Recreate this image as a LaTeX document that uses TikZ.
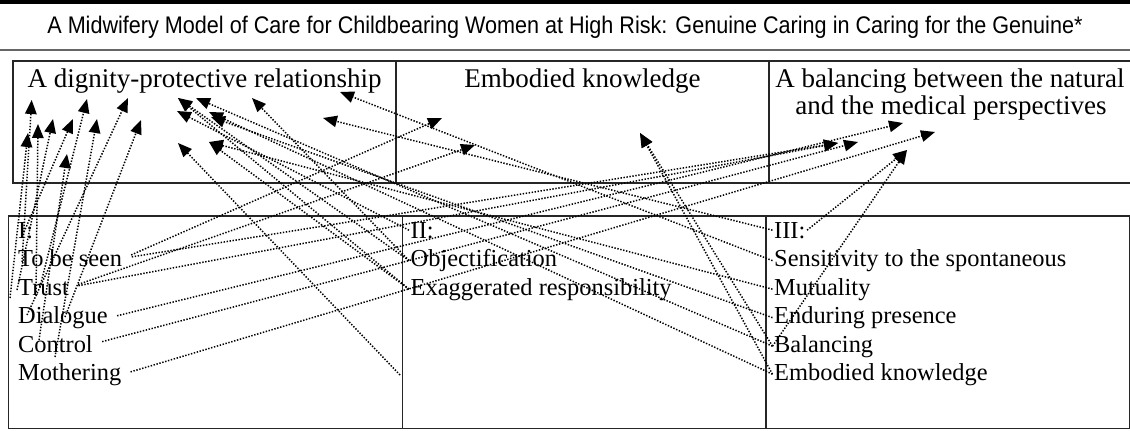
\documentclass[tikz,border=0pt]{standalone}
\usepackage{fontspec}
\usepackage{graphicx}
\setmainfont{Liberation Serif}
\newfontfamily\titlefont{Liberation Sans}
\usetikzlibrary{arrows.meta}
\begin{document}
\begin{tikzpicture}[x=1pt,y=-1pt,
  conn/.style={line width=1.5pt, dash pattern=on 1.4pt off 1.6pt, -{Triangle[length=14pt,width=11.5pt]}},
  gap/.style={shorten <=8pt},
  box/.style={line width=1.2pt, draw=black!85},
  toptxt/.style={font=\fontsize{27}{28}\selectfont, inner sep=0pt, anchor=base},
  item/.style={font=\fontsize{24.4}{25}\selectfont, inner sep=1.5pt, anchor=base west}]
\useasboundingbox (0,0) rectangle (1130,431);
\fill[black] (0,0) rectangle (1130,4);
\draw[line width=1.3pt, black!60] (0,50) -- (1130,50);
\node[font=\titlefont\fontsize{24}{25}\selectfont, anchor=base, inner sep=0pt] (title) at (565,33)
  {\scalebox{0.9}[1]{A Midwifery Model of Care for Childbearing Women at High Risk: Genuine Caring in Caring for the Genuine*}};
% boxes
\draw[box] (13,61) rectangle (1131,183);
\draw[box] (396,61) -- (396,183);
\draw[box] (769,61) -- (769,183);
\draw[box] (8.3,216) rectangle (1129.3,428.5);
\draw[box] (402.7,216) -- (402.7,428.5);
\draw[box] (766,216) -- (766,428.5);
% top texts
\node[toptxt] (dpr) at (204.5,87) {A dignity-protective relationship};
\node[toptxt] (ekt) at (582.5,87) {Embodied knowledge};
\node[toptxt] (bal1) at (950,87) {A balancing between the natural};
\node[toptxt] (bal2) at (951,114) {and the medical perspectives};
% column I
\node[item] (one) at (16.5,238) {I:};
\node[item] (seen) at (16.5,266.5) {To be seen};
\node[item] (trust) at (16.5,295) {Trust};
\node[item] (dial) at (16.5,323.5) {Dialogue};
\node[item] (ctrl) at (16.5,352) {Control};
\node[item] (moth) at (16.5,380) {Mothering};
% column II
\node[item] (two) at (409,238) {II:};
\node[item] (obj) at (409,266.5) {Objectification};
\node[item] (exag) at (409,295) {Exaggerated responsibility};
% column III
\node[item] (three) at (772.5,238) {III:};
\node[item] (sens) at (772.5,266.5) {Sensitivity to the spontaneous};
\node[item] (mutu) at (772.5,295) {Mutuality};
\node[item] (endu) at (772.5,323.5) {Enduring presence};
\node[item] (bala) at (772.5,352) {Balancing};
\node[item] (embo) at (772.5,380) {Embodied knowledge};
% arrow tips
\coordinate (h1) at (31.7,100);
\coordinate (h2) at (87,99);
\coordinate (h3) at (128,98);
\coordinate (h4) at (38,124);
\coordinate (h5) at (53,119);
\coordinate (h6) at (73,119);
\coordinate (h7) at (97,119);
\coordinate (h8) at (141,120);
\coordinate (h9) at (28,133);
\coordinate (h10) at (67,154);
\coordinate (m1) at (178,98);
\coordinate (m2) at (196,98);
\coordinate (m3) at (252,98);
\coordinate (m4) at (177,111);
\coordinate (m5) at (209,112);
\coordinate (m6) at (211,117);
\coordinate (m7) at (209,142);
\coordinate (m8) at (178,143);
\coordinate (L1) at (340,92);
\coordinate (L2) at (323,118);
\coordinate (E1) at (442,118);
\coordinate (E2) at (475,145);
\coordinate (E3) at (640,133);
\coordinate (R1) at (903,123);
\coordinate (R2) at (838,143);
\coordinate (R3) at (858,142);
\coordinate (R4) at (935,132);
\coordinate (R5) at (907,150);
% free source points in column I
\coordinate (s1) at (22,262);
\coordinate (s2) at (40,287);
\coordinate (s3) at (27,315);
\coordinate (s4) at (36,292);
\coordinate (s5) at (17,290);
\coordinate (s6) at (24,232);
\coordinate (s7) at (55,357);
\coordinate (s8) at (65,317);
\coordinate (s9) at (10,298);
\coordinate (s10) at (39,340);
\coordinate (s11) at (400,375);
% column I, short lines
\draw[conn] (s1) -- (h1);
\draw[conn] (s2) -- (h2);
\draw[conn] (s3) -- (h3);
\draw[conn] (s4) -- (h4);
\draw[conn] (s5) -- (h5);
\draw[conn] (s6) -- (h6);
\draw[conn] (s7) -- (h7);
\draw[conn] (s8) -- (h8);
\draw[conn] (s9) -- (h9);
\draw[conn] (s10) -- (h10);
% column I, long lines
\draw[conn,gap] (seen.east) -- (E1);
\draw[conn,gap] (seen.east) -- (R2);
\draw[conn,gap] (trust.east) -- (E2);
\draw[conn,gap] (trust.east) -- (R2);
\draw[conn,gap] (dial.east) -- (R1);
\draw[conn,gap] (ctrl.east) -- (R3);
\draw[conn,gap] (moth.east) -- (R4);
% column II
\draw[conn] (obj.west) -- (m3);
\draw[conn] (obj.west) -- (m1);
\draw[conn] (exag.west) -- (m1);
\draw[conn] (exag.west) -- (m7);
\draw[conn] (two.west) -- (m4);
\draw[conn] (s11) -- (m8);
% column III
\draw[conn] (sens.west) -- (L1);
\draw[conn] (three.west) -- (L2);
\draw[conn] (mutu.west) -- (m7);
\draw[conn] (endu.west) -- (m6);
\draw[conn] (bala.west) -- (m2);
\draw[conn] (embo.west) -- (m5);
\draw[conn] (embo.west) -- (E3);
\draw[conn] (bala.west) -- (E3);
\draw[conn] (three.east) -- (R5);
\draw[conn] (bala.west) -- (R5);
\end{tikzpicture}
\end{document}
